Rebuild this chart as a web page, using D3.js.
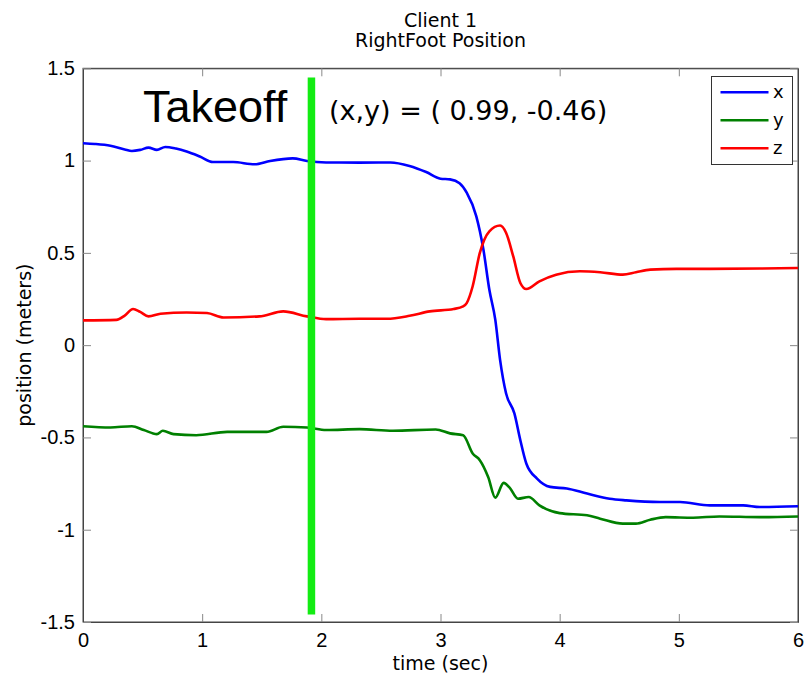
<!DOCTYPE html>
<html lang="en">
<head>
  <meta charset="utf-8">
  <title>Client 1 RightFoot Position</title>
  <script src="https://d3js.org/d3.v7.min.js"></script>
  <style>
    body { margin: 0; background: #fff; }
    text { font-family: "Liberation Sans", Arial, sans-serif; fill: #000; }
    .lbl { font-family: "DejaVu Sans", sans-serif; }
    .axis path { stroke: #444; }
    .axis line { stroke: #888; }
  </style>
</head>
<body>
<svg id="chart" width="806" height="676"></svg>
<script>
// time (sec), position (m)
var seriesX = [[0,1.094],[0.1,1.09],[0.23,1.08],[0.35,1.06],[0.41,1.052],[0.48,1.058],[0.55,1.07],[0.62,1.058],[0.69,1.074],[0.78,1.065],[0.87,1.049],[0.98,1.022],[1.09,0.992],[1.26,0.992],[1.44,0.98],[1.57,0.998],[1.76,1.012],[1.88,0.998],[2.04,0.99],[2.32,0.989],[2.58,0.99],[2.74,0.971],[2.88,0.938],[3.0,0.902],[3.08,0.898],[3.16,0.877],[3.22,0.826],[3.30,0.699],[3.36,0.518],[3.41,0.30],[3.46,0.137],[3.50,-0.08],[3.55,-0.261],[3.62,-0.37],[3.67,-0.515],[3.72,-0.641],[3.81,-0.723],[3.92,-0.768],[4.06,-0.777],[4.23,-0.804],[4.42,-0.832],[4.56,-0.841],[4.84,-0.85],[5.01,-0.85],[5.26,-0.868],[5.54,-0.868],[5.68,-0.877],[6.0,-0.873]];
var seriesY = [[0,-0.439],[0.23,-0.446],[0.41,-0.439],[0.51,-0.46],[0.62,-0.482],[0.67,-0.464],[0.76,-0.482],[0.95,-0.488],[1.21,-0.47],[1.54,-0.47],[1.68,-0.442],[1.88,-0.446],[2.04,-0.46],[2.32,-0.455],[2.60,-0.464],[2.96,-0.457],[3.08,-0.478],[3.19,-0.488],[3.27,-0.587],[3.33,-0.623],[3.40,-0.714],[3.46,-0.826],[3.53,-0.746],[3.58,-0.772],[3.65,-0.832],[3.74,-0.823],[3.83,-0.868],[4.0,-0.91],[4.23,-0.922],[4.34,-0.94],[4.53,-0.967],[4.64,-0.967],[4.76,-0.946],[4.89,-0.932],[5.12,-0.935],[5.34,-0.928],[5.68,-0.932],[6.0,-0.928]];
var seriesZ = [[0,0.134],[0.28,0.137],[0.35,0.16],[0.42,0.196],[0.48,0.18],[0.55,0.156],[0.65,0.17],[0.87,0.177],[1.04,0.174],[1.18,0.15],[1.48,0.156],[1.68,0.183],[1.88,0.156],[2.04,0.141],[2.32,0.143],[2.55,0.143],[2.74,0.159],[2.91,0.183],[3.11,0.196],[3.19,0.21],[3.22,0.228],[3.27,0.319],[3.33,0.5],[3.41,0.617],[3.50,0.648],[3.55,0.609],[3.61,0.482],[3.67,0.337],[3.72,0.304],[3.83,0.346],[3.97,0.382],[4.17,0.4],[4.34,0.395],[4.53,0.382],[4.64,0.395],[4.76,0.409],[4.98,0.413],[5.26,0.413],[5.68,0.415],[6.0,0.418]];
var seriesNames = ["x", "y", "z"];
var seriesColors = ["#0000ff", "#008000", "#ff0000"];
var xTicks = [0, 1, 2, 3, 4, 5, 6];
var yTicks = [-1.5, -1, -0.5, 0, 0.5, 1, 1.5];
var takeoffTime = 1.917;
var takeoffSpan = [1.45, -1.46];

var svg = d3.select("#chart"),
    plotLeft = 83, plotRight = 798, plotTop = 68.3, plotBottom = 622;

var x = d3.scaleLinear().domain([0, 6]).range([plotLeft, plotRight]);
var y = d3.scaleLinear().domain([-1.5, 1.5]).range([plotBottom, plotTop]);
var midX = (plotLeft + plotRight) / 2;

// titles
svg.append("text").attr("class", "lbl").attr("x", midX).attr("y", 26.5)
    .attr("text-anchor", "middle").style("font-size", "19px").text("Client 1");
svg.append("text").attr("class", "lbl").attr("x", midX).attr("y", 46.5)
    .attr("text-anchor", "middle").style("font-size", "19px").text("RightFoot Position");

// box
svg.append("rect").attr("x", plotLeft).attr("y", plotTop)
    .attr("width", plotRight - plotLeft).attr("height", plotBottom - plotTop)
    .attr("fill", "none").attr("stroke", "#444");

svg.append("g").attr("class", "axis")
    .attr("transform", "translate(0," + plotBottom + ")")
    .call(d3.axisBottom(x).tickValues(xTicks).tickSizeInner(-8).tickSizeOuter(0).tickPadding(10.5).tickFormat(d3.format("d")))
    .call(g => g.selectAll("text").style("font-size", "20px").attr("fill", "#000"));
svg.append("g").attr("class", "axis")
    .attr("transform", "translate(0," + plotTop + ")")
    .call(d3.axisTop(x).tickValues(xTicks).tickSizeInner(-8).tickSizeOuter(0).tickFormat(""));
svg.append("g").attr("class", "axis")
    .attr("transform", "translate(" + plotLeft + ",0)")
    .call(d3.axisLeft(y).tickValues(yTicks).tickSizeInner(-8).tickSizeOuter(0).tickPadding(8).tickFormat(d => String(d)))
    .call(g => g.selectAll("text").style("font-size", "20px").attr("fill", "#000"));
svg.append("g").attr("class", "axis")
    .attr("transform", "translate(" + plotRight + ",0)")
    .call(d3.axisRight(y).tickValues(yTicks).tickSizeInner(-8).tickSizeOuter(0).tickFormat(""));
svg.selectAll(".axis text").style("font-family", "'Liberation Sans', Arial, sans-serif");

// axis labels
svg.append("text").attr("class", "lbl").attr("x", midX).attr("y", 670)
    .attr("text-anchor", "middle").style("font-size", "19px").text("time (sec)");
svg.append("text").attr("class", "lbl")
    .attr("transform", "translate(31," + y(0) + ") rotate(-90)")
    .attr("text-anchor", "middle").style("font-size", "19px").text("position (meters)");

// lines
var line = d3.line().curve(d3.curveMonotoneX).x(d => x(d[0])).y(d => y(d[1]));
[seriesX, seriesY, seriesZ].forEach(function(s, i) {
    svg.append("path").datum(s)
        .attr("fill", "none")
        .attr("stroke", seriesColors[i])
        .attr("stroke-width", 2.6)
        .attr("stroke-linejoin", "round")
        .attr("d", line);
});

// takeoff marker
svg.append("line")
    .attr("x1", x(takeoffTime)).attr("x2", x(takeoffTime))
    .attr("y1", y(takeoffSpan[0])).attr("y2", y(takeoffSpan[1]))
    .attr("stroke", "#13ec13").attr("stroke-width", 7.5);

svg.append("text").attr("x", 143).attr("y", 122)
    .style("font-size", "45px").text("Takeoff");
svg.append("text").attr("class", "lbl").attr("x", 329).attr("y", 119.5)
    .style("font-size", "27px").text("(x,y) = ( 0.99, -0.46)");

// legend
var leg = svg.append("g");
leg.append("rect").attr("x", 711.5).attr("y", 76.5).attr("width", 81).attr("height", 88)
    .attr("fill", "#fff").attr("stroke", "#333");
seriesNames.forEach(function(n, i) {
    var ly = 92.3 + i * 28;
    leg.append("line").attr("x1", 720.5).attr("x2", 768.5).attr("y1", ly).attr("y2", ly)
        .attr("stroke", seriesColors[i]).attr("stroke-width", 2.6);
    leg.append("text").attr("class", "lbl").attr("x", 773).attr("y", ly + 6)
        .style("font-size", "18px").text(n);
});
</script>
</body>
</html>
